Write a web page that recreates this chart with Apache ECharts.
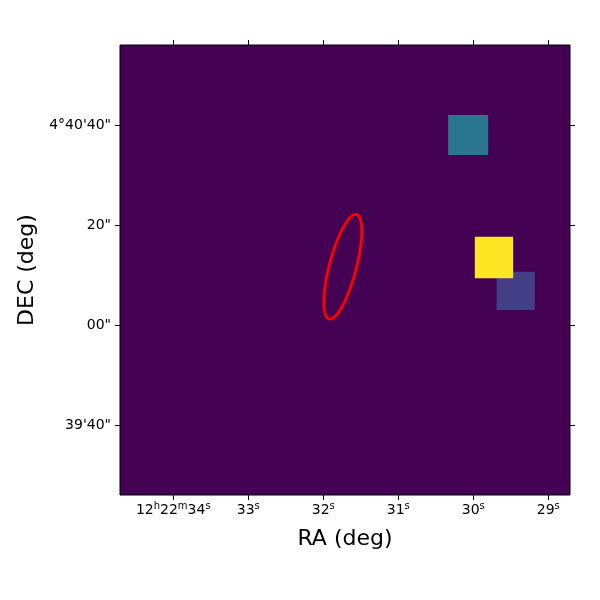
<!DOCTYPE html>
<html>
<head>
<meta charset="utf-8">
<script src="https://cdn.jsdelivr.net/npm/echarts@6/dist/echarts.min.js"></script>
<style>html,body{margin:0;padding:0;background:#fff;}#chart{width:600px;height:600px;}</style>
</head>
<body>
<div id="chart"></div>
<script>
// Axis ranges (RA in seconds of time past 12h22m, DEC in arcsec offset from +4°40'00")
const raRange = [28.71, 34.71];
const decRange = [-34, 56];
const raTicks = [34, 33, 32, 31, 30, 29];
const raTickLabels = ['12{n|}{s|h}22{s|m}34{s|s}', '33{s|s}', '32{s|s}', '31{s|s}', '30{s|s}', '29{s|s}'];
const decTicks = [40, 20, 0, -20];
const decTickLabels = ['4°40\'40"', '20"', '00"', '39\'40"'];

// Image sources (boxes), drawn in this order
const boxRaEast = [30.335, 29.689, 29.979];
const boxRaWest = [29.801, 29.179, 29.468];
const boxDecTop = [42.0, 10.66, 17.66];
const boxDecBottom = [34.0, 3.0, 9.34];
const boxLevel = [0.37, 0.22, 1.0];

// Ellipse region
const ellipseCenter = [31.739, 11.66];     // RA s, DEC arcsec
const ellipseSemiAxes = [10.8, 2.7];       // arcsec
const ellipseAngle = 14.7;                 // deg, west of north

const levelColors = {0.37: '#2b758e', 0.22: '#433e85', 1.0: '#fde725'};

const chart = echarts.init(document.getElementById('chart'));
const font = 'DejaVu Sans';

const boxData = boxRaEast.map((v, i) => [v, boxRaWest[i], boxDecTop[i], boxDecBottom[i], boxLevel[i]]);

const option = {
  animation: false,
  backgroundColor: '#ffffff',
  grid: {left: 120, right: 30, top: 45, bottom: 105, show: true, backgroundColor: '#440154', borderColor: '#000', borderWidth: 1},
  xAxis: [{
    type: 'value', min: raRange[0], max: raRange[1], inverse: true, position: 'bottom',
    name: 'RA (deg)', nameLocation: 'middle', nameGap: 33,
    nameTextStyle: {fontFamily: font, fontSize: 22, color: '#000'},
    axisLine: {show: false, onZero: false},
    splitLine: {show: false},
    axisTick: {show: true, length: 5, inside: false, customValues: raTicks, lineStyle: {color: '#000', width: 1}},
    axisLabel: {show: true, margin: 6, customValues: raTicks, fontFamily: font, fontSize: 14, color: '#000',
      lineHeight: 18,
      rich: {
        n: {fontFamily: font, fontSize: 14, color: '#000', lineHeight: 18},
        s: {fontFamily: font, fontSize: 10, color: '#000', verticalAlign: 'top', lineHeight: 10}
      },
      formatter: v => raTickLabels[raTicks.indexOf(Math.round(v))]}
  }, {
    type: 'value', min: raRange[0], max: raRange[1], inverse: true, position: 'top',
    axisLine: {show: false, onZero: false},
    splitLine: {show: false},
    axisTick: {show: true, length: 5, inside: false, customValues: raTicks, lineStyle: {color: '#000', width: 1}},
    axisLabel: {show: false}
  }],
  yAxis: [{
    type: 'value', min: decRange[0], max: decRange[1], position: 'left',
    name: 'DEC (deg)', nameLocation: 'middle', nameGap: 82,
    nameTextStyle: {fontFamily: font, fontSize: 22, color: '#000'},
    axisLine: {show: false, onZero: false},
    splitLine: {show: false},
    axisTick: {show: true, length: 5, inside: false, customValues: decTicks, lineStyle: {color: '#000', width: 1}},
    axisLabel: {show: true, margin: 9, customValues: decTicks, fontFamily: font, fontSize: 14, color: '#000',
      formatter: v => decTickLabels[decTicks.indexOf(Math.round(v))]}
  }, {
    type: 'value', min: decRange[0], max: decRange[1], position: 'right',
    axisLine: {show: false, onZero: false},
    splitLine: {show: false},
    axisTick: {show: true, length: 5, inside: false, customValues: decTicks, lineStyle: {color: '#000', width: 1}},
    axisLabel: {show: false}
  }],
  series: [{
    type: 'custom',
    xAxisIndex: 0, yAxisIndex: 0,
    clip: true,
    data: boxData,
    encode: {x: [0, 1], y: [2, 3]},
    renderItem: (params, api) => {
      const p1 = api.coord([api.value(0), api.value(2)]);
      const p2 = api.coord([api.value(1), api.value(3)]);
      return {
        type: 'rect',
        shape: {x: Math.min(p1[0], p2[0]), y: Math.min(p1[1], p2[1]), width: Math.abs(p2[0] - p1[0]), height: Math.abs(p2[1] - p1[1])},
        style: {fill: levelColors[api.value(4)]}
      };
    }
  }, {
    type: 'custom',
    xAxisIndex: 0, yAxisIndex: 0,
    clip: true,
    data: [ellipseCenter],
    encode: {x: 0, y: 1},
    renderItem: (params, api) => {
      const cx = api.value(0), cy = api.value(1);
      const a = ellipseSemiAxes[0], b = ellipseSemiAxes[1];
      const th = ellipseAngle * Math.PI / 180;
      const pts = [];
      for (let k = 0; k < 120; k++) {
        const t = 2 * Math.PI * k / 120;
        const u = a * Math.cos(t), w = b * Math.sin(t);
        const west = u * Math.sin(th) + w * Math.cos(th);
        const north = u * Math.cos(th) - w * Math.sin(th);
        pts.push(api.coord([cx - west / 15, cy + north]));
      }
      return {type: 'polygon', shape: {points: pts}, style: {fill: 'none', stroke: '#ff0000', lineWidth: 2.8}};
    }
  }]
};
chart.setOption(option);
</script>
</body>
</html>
